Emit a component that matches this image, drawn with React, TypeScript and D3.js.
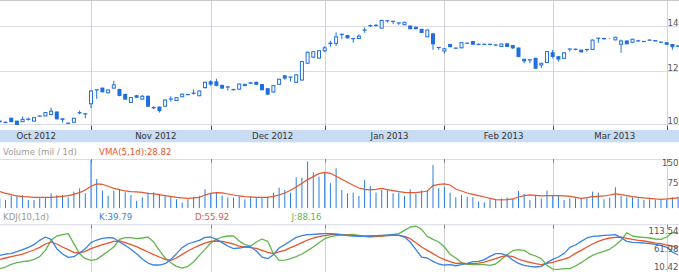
import React from "react";
import * as d3 from "d3";

// ---------- data (trading-day index 0 = Oct 8 2012) ----------
const monthLabels = ["Oct 2012", "Nov 2012", "Dec 2012", "Jan 2013", "Feb 2013", "Mar 2013"];
// index of first trading day of each month (Oct 1 virtual, ..., Apr 1 2013)
const monthStarts = [-5, 16, 37, 57, 78, 97, 117];

const priceTicks = [10, 12, 14];
const volTicks = [75, 150];
const kdjTicks = [10.42, 61.98, 113.54];

const lastVMA = 28.82;
const lastK = 39.79;
const lastD = 55.92;
const lastJ = 88.16;

const openP = [10.08,10.05,10.20,10.10,10.08,10.16,10.10,10.27,10.28,10.33,
10.42,10.18,10.03,10.06,10.39,10.36,10.72,11.24,11.31,11.13,
11.31,11.26,11.07,10.77,11.02,10.89,11.00,10.58,10.60,10.63,
10.89,10.84,10.98,11.07,11.11,11.02,11.33,11.56,11.56,11.42,
11.36,11.26,11.27,11.41,11.50,11.54,11.45,11.29,11.16,11.46,
11.80,11.74,11.54,11.63,12.32,12.58,12.54,12.86,13.18,13.19,
13.60,13.55,13.40,13.41,13.80,14.01,14.02,13.90,14.25,14.22,
14.14,14.06,14.00,13.94,13.84,13.49,13.63,13.00,12.85,13.14,
12.98,12.99,13.19,13.27,13.14,13.14,13.14,13.11,13.05,13.17,
13.09,12.98,12.49,12.46,12.53,12.25,12.35,12.77,12.60,12.53,
12.93,12.93,12.89,12.91,12.92,13.42,13.40,13.42,13.35,13.15,
13.30,13.24,13.30,13.28,13.33,13.32,13.24,13.22,13.14,13.06];

const highP = [10.12,10.08,10.22,10.11,10.26,10.22,10.23,10.29,10.41,10.58,
10.43,10.20,10.05,10.21,10.47,10.37,11.24,11.26,11.33,11.25,
11.60,11.28,11.09,10.97,11.05,11.05,11.02,10.63,10.61,10.88,
11.00,10.97,11.10,11.08,11.26,11.22,11.56,11.62,11.68,11.44,
11.38,11.28,11.49,11.48,11.55,11.56,11.47,11.30,11.42,11.68,
11.83,11.76,11.86,12.42,12.82,12.85,12.88,13.06,13.31,13.70,
13.63,13.58,13.42,13.60,13.93,14.07,14.10,14.30,14.28,14.25,
14.17,14.20,14.02,13.97,13.86,13.83,13.65,13.03,12.97,13.16,
13.00,13.24,13.22,13.30,13.18,13.18,13.17,13.14,13.18,13.19,
13.10,13.00,12.50,12.48,12.55,12.33,12.85,12.89,12.62,12.79,
12.95,12.95,12.90,12.93,13.36,13.44,13.44,13.44,13.49,13.36,
13.32,13.40,13.33,13.29,13.38,13.33,13.26,13.24,13.16,13.10];

const lowP = [10.05,10.03,10.07,9.96,10.07,10.12,10.08,10.26,10.27,10.32,
10.16,10.05,10.00,10.04,10.34,10.20,10.56,10.90,11.15,11.12,
11.30,11.00,10.87,10.75,10.94,10.87,10.60,10.52,10.40,10.61,
10.80,10.83,10.97,11.04,11.06,11.00,11.30,11.40,11.38,11.29,
11.22,11.22,11.25,11.40,11.47,11.44,11.22,11.04,11.14,11.44,
11.64,11.57,11.52,11.60,12.30,12.55,12.52,12.80,13.04,13.07,
13.38,13.41,13.22,13.39,13.68,13.95,13.98,13.88,14.17,14.10,
14.05,14.04,13.85,13.84,13.67,13.47,12.90,12.90,12.74,13.02,
12.95,12.97,13.17,13.12,13.10,13.11,13.10,13.08,13.03,13.03,
12.94,12.58,12.32,12.32,12.08,12.12,12.33,12.53,12.39,12.50,
12.82,12.88,12.79,12.82,12.90,13.22,13.36,13.40,13.33,12.77,
13.15,13.22,13.25,13.25,13.31,13.29,13.20,13.12,12.90,13.02];

const closeP = [10.10,10.06,10.08,9.98,10.16,10.17,10.22,10.28,10.40,10.45,
10.18,10.16,10.02,10.20,10.40,10.35,11.20,11.25,11.17,11.24,
11.44,11.03,10.89,10.95,10.96,11.00,10.63,10.57,10.47,10.86,
10.90,10.95,11.08,11.06,11.12,11.20,11.54,11.47,11.42,11.31,
11.35,11.25,11.47,11.46,11.52,11.46,11.25,11.08,11.41,11.66,
11.71,11.75,11.84,12.39,12.79,12.82,12.86,12.99,13.20,13.49,
13.61,13.44,13.41,13.52,13.81,14.02,14.03,14.27,14.26,14.23,
14.15,14.18,13.87,13.87,13.69,13.81,13.17,13.01,12.95,13.04,
12.97,13.22,13.20,13.15,13.15,13.15,13.15,13.12,13.16,13.05,
12.99,12.61,12.42,12.47,12.11,12.32,12.82,12.61,12.50,12.77,
12.94,12.92,12.81,12.92,13.34,13.43,13.41,13.42,13.47,13.30,
13.17,13.38,13.31,13.27,13.34,13.30,13.25,13.15,13.04,13.08];

const volume = [30,25,37,37,40,25,25,30,32,45,
40,40,33,50,60,45,145,88,53,38,
52,58,48,40,22,33,47,48,40,40,
35,27,17,27,35,38,57,45,48,38,
33,32,37,27,35,33,33,35,47,62,
55,47,93,92,140,108,95,107,75,120,
55,45,47,37,85,67,47,55,55,45,
47,37,57,43,53,52,130,60,65,47,
33,40,35,33,20,18,27,25,30,33,
28,52,43,25,40,30,53,40,40,25,
30,30,28,30,50,47,27,32,63,37,
35,33,30,25,27,27,25,27,33,35];

const vma = [50,45,41,37,35,34,33,33,33,33,
34,36,38,42,47,55,66,73,72,66,
60,56,52,50,49,48,45,43,41,38,
36,33,31,30,31,33,40,45,47,46,
43,40,37,35,34,33,33,33,36,40,
46,54,64,75,86,95,104,108,105,96,
87,78,69,61,57,55,57,60,56,53,
50,48,47,47,49,52,68,72,73,70,
58,52,46,42,38,34,30,26,25,26,
28,34,38,40,39,37,38,38,38,37,
36,33,30,32,35,36,37,40,43,41,
38,35,33,31,30,28,27,28,30,31];

const kLine = [43.8,47.6,48.6,54.3,60,66.7,74.4,86.8,96.3,89.6,
62.9,47.6,38,40,51.4,62.9,80.1,87.7,92.5,94.4,
93.5,82,72.5,61,48.6,33.3,21.8,16.1,16.1,19.9,
32.3,48.6,65.8,76.3,82,86.8,95.4,96.3,89.6,80.1,
70.5,62.9,64.8,67.7,68.6,56.2,39,34.3,45.7,64.8,
74.4,84.9,95.4,100.1,103,104,104.9,105.9,105.9,104.9,
103,100.1,99.2,98.2,98.2,99.2,100.1,101.1,102,103,
102,96.3,82,60,39,36.2,26.6,19,16.1,17,
14,17.1,20.9,25.7,26.6,31.4,41,48.6,48.6,42.8,
30.4,20.9,15.2,12.3,10.4,12.3,22.8,32.3,39,49.5,
66.7,73.4,83.9,93.5,98.2,99.2,101.1,102,103,94.4,
83.9,81.1,80.1,79.1,77.2,75.3,72.5,66.7,53.4,44.8];

const dLine = [32.3,36.2,40,43.8,47.6,53.4,59.1,66.7,76.3,82,
76.3,67.7,60,52.4,50.5,55.3,62.9,68.6,74.4,79.1,
83.9,84.9,80.1,74.4,68.6,61,53.4,45.7,39,32.3,
29.5,36.2,46.7,56.2,64.8,72.5,79.1,83.9,84.9,83.9,
80.1,76.3,70.5,67.7,65.8,63.9,58.1,52.4,48.6,53.4,
58.1,65.8,72.5,80.1,87.7,93.5,97.3,100.1,103,103,
103,102,101.1,99.2,99.2,99.2,99.2,99.2,100.1,101.1,
101.1,98.2,91.5,80.1,67.7,58.1,48.6,39,31.4,25.5,
21,21.8,19.9,19.9,21.8,24.7,29.5,34.3,40,42.8,
40,33.3,27.6,23.8,19.9,17.1,20.9,23.8,28.5,33.3,
39,49.5,58.1,67.7,76.3,83.9,89.6,93.5,95.4,96.3,
92.5,89.6,86.8,84.9,82,79.1,77.2,73.4,70.5,65.8];

const jLine = [5.6,10.4,18,22.8,25.7,27.6,32.3,40,58.1,86.8,
99.2,103,105.9,77.2,48.6,34.3,29.5,32.3,43.8,55.3,
67.7,89.6,94.4,94.4,91.5,93.5,96.3,82,58.1,36.2,
22.8,12.3,7.5,12.3,24.7,43.8,61,79.1,89.6,96.3,
99.2,99.2,84.9,74.4,70.5,82,90.6,83.9,48.6,29.5,
30.4,34.3,40,47.6,57.2,67.7,80.1,91.5,97.3,100.1,
102,103,104,101.1,98.2,96.3,97.3,99.2,102,104,
105.9,115.4,125,127.8,118.3,98.2,89.6,82,67.7,47,
36,22.8,18,17.1,17.1,17.1,15.2,19,32.3,45.7,
57.2,60,58.1,47.6,41.9,34.3,15.2,4.6,3.7,5.6,
5.6,13.2,22.8,34.3,43.8,50.5,55.3,61,72.5,86.8,
108.7,99.2,96.3,95.4,93.5,90.6,89.6,96.3,108.7,105.9];

// ---------- styling ----------
const W = 679;
const H = 272;
const FONT = "'DejaVu Sans', Verdana, sans-serif";
const FS = 8.6;
const CANDLE = "#1f6fdf";
const VOLBAR = "#2a7de1";
const RED = "#e4572e";
const BLUE = "#3a83e0";
const GREEN = "#62b64e";
const GRID_H = "#dcdce8";
const GRID_V = "#d2d2d2";

export default function App() {
  const idx = d3.range(closeP.length);
  const x = d3.scaleLinear().domain([monthStarts[1], monthStarts[6]]).range([91, 666.7]);
  const yP = d3.scaleLog().domain([10, 14]).range([124, 26]);
  const yV = d3.scaleLinear().domain([0, 150]).range([208.3, 158.3]);
  const yK = d3.scaleLinear().domain([10.42, 113.54]).range([267, 231]);

  const main = { top: 1, bottom: 125 };
  const vol = { top: 159, bottom: 208.3 };
  const kdj = { top: 224.7, bottom: 272 };

  const kdjPath = (arr: number[]) =>
    d3.line<number>().x((_, i) => x(i)).y((d) => yK(d))(arr) || "";
  const vmaPath = d3.line<number>().x((_, i) => x(i)).y((d) => yV(d))(vma) || "";

  const gridXs = monthStarts.slice(1).map((m) => Math.round(x(m)) + 0.5);

  return (
    <svg
      width={W}
      height={H}
      viewBox={`0 0 ${W} ${H}`}
      style={{ position: "absolute", left: 0, top: 0, display: "block", background: "#fff" }}
      fontFamily={FONT}
      fontSize={FS}
    >
      <defs>
        <clipPath id="cMain"><rect x={0} y={main.top} width={W} height={main.bottom - main.top} /></clipPath>
        <clipPath id="cVol"><rect x={0} y={vol.top} width={W} height={vol.bottom - vol.top} /></clipPath>
        <clipPath id="cKdj"><rect x={0} y={kdj.top} width={W} height={kdj.bottom - kdj.top} /></clipPath>
      </defs>
      <rect x={0} y={0} width={W} height={H} fill="#fff" />

      {/* ===== main price panel ===== */}
      <line x1={0} x2={W} y1={0.5} y2={0.5} stroke="#c8c8c8" />
      {priceTicks.map((t) => (
        <line key={"pg" + t} x1={0} x2={W} y1={Math.round(yP(t)) + 0.5} y2={Math.round(yP(t)) + 0.5} stroke={GRID_H} />
      ))}
      {gridXs.map((gx, i) => (
        <g key={"mv" + i}>
          <line x1={gx} x2={gx} y1={main.top} y2={main.bottom} stroke={GRID_V} />
          <line x1={gx} x2={gx} y1={125.5} y2={130} stroke="#555" />
        </g>
      ))}
      <g clipPath="url(#cMain)">
        {idx.map((i) => {
          const cx = x(i);
          const o = yP(openP[i]);
          const c = yP(closeP[i]);
          const up = closeP[i] >= openP[i];
          const top = Math.min(o, c);
          const h = Math.abs(o - c);
          return (
            <g key={"c" + i}>
              <line x1={cx} x2={cx} y1={yP(highP[i])} y2={yP(lowP[i])} stroke={CANDLE} strokeWidth={1} />
              {up ? (
                <rect x={cx - 1.5} y={top} width={3} height={Math.max(h, 0)} fill="#fff" stroke={CANDLE} strokeWidth={1} />
              ) : (
                <rect x={cx - 2} y={top - 0.5} width={4} height={Math.max(h, 0) + 1} fill={CANDLE} />
              )}
            </g>
          );
        })}
      </g>
      {priceTicks.map((t) => (
        <text key={"pl" + t} x={678.5} y={yP(t) - 3} textAnchor="end" dominantBaseline="central" fill="#555">
          {t}
        </text>
      ))}

      {/* ===== date axis band ===== */}
      <rect x={0} y={130} width={W} height={12.3} fill="#c8dcf4" />
      {monthLabels.map((m, i) => (
        <text
          key={m}
          x={(x(monthStarts[i]) + x(monthStarts[i + 1])) / 2 + 5}
          y={136}
          textAnchor="middle"
          dominantBaseline="central"
          fill="#333"
        >
          {m}
        </text>
      ))}

      {/* ===== volume panel ===== */}
      <text x={3} y={151.5} dominantBaseline="central" fill="#9a9a9a">Volume (mil / 1d)</text>
      <text x={99} y={151.5} dominantBaseline="central" fill={RED}>{`VMA(5,1d):${lastVMA.toFixed(2)}`}</text>
      <line x1={0} x2={W} y1={vol.top + 0.5} y2={vol.top + 0.5} stroke={GRID_H} />
      {gridXs.map((gx, i) => (
        <g key={"vv" + i}>
          <line x1={gx} x2={gx} y1={vol.top} y2={vol.bottom} stroke={GRID_V} />
          <line x1={gx} x2={gx} y1={vol.top} y2={vol.top + 4} stroke="#888" />
        </g>
      ))}
      <g clipPath="url(#cVol)">
        {idx.map((i) => (
          <rect
            key={"v" + i}
            x={x(i) - 0.5}
            y={yV(volume[i])}
            width={1}
            height={yV(0) - yV(volume[i])}
            fill={VOLBAR}
          />
        ))}
        <path d={vmaPath} fill="none" stroke={RED} strokeWidth={1.2} />
      </g>
      {volTicks.map((t) => (
        <text
          key={"vl" + t}
          x={678.5}
          y={Math.max(yV(t), vol.top + 4.4)}
          textAnchor="end"
          dominantBaseline="central"
          fill="#555"
        >
          {t}
        </text>
      ))}

      {/* ===== KDJ panel ===== */}
      <text x={3} y={216.5} dominantBaseline="central" fill="#9a9a9a">KDJ(10,1d)</text>
      <text x={99} y={216.5} dominantBaseline="central" fill={BLUE}>{`K:${lastK.toFixed(2)}`}</text>
      <text x={195} y={216.5} dominantBaseline="central" fill={RED}>{`D:${lastD.toFixed(2)}`}</text>
      <text x={291.5} y={216.5} dominantBaseline="central" fill={GREEN}>{`J:${lastJ.toFixed(2)}`}</text>
      <line x1={0} x2={W} y1={kdj.top} y2={kdj.top} stroke={GRID_H} />
      {gridXs.map((gx, i) => (
        <g key={"kv" + i}>
          <line x1={gx} x2={gx} y1={kdj.top} y2={kdj.bottom} stroke={GRID_V} />
          <line x1={gx} x2={gx} y1={kdj.top} y2={kdj.top + 4} stroke="#888" />
        </g>
      ))}
      <g clipPath="url(#cKdj)" fill="none" strokeWidth={1.3} strokeLinejoin="round">
        <path d={kdjPath(jLine)} stroke={GREEN} />
        <path d={kdjPath(dLine)} stroke={RED} />
        <path d={kdjPath(kLine)} stroke={BLUE} />
      </g>
      {kdjTicks.map((t) => (
        <text key={"kl" + t} x={678.5} y={Math.min(yK(t), 266.5)} textAnchor="end" dominantBaseline="central" fill="#555">
          {t.toFixed(2)}
        </text>
      ))}
    </svg>
  );
}
